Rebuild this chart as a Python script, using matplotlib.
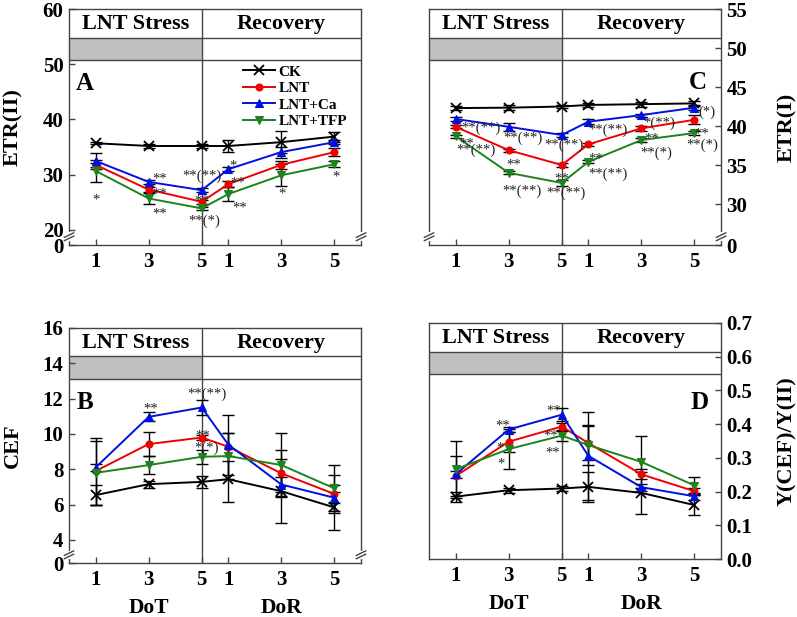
import matplotlib.pyplot as plt
import matplotlib.transforms as mtransforms
from matplotlib.patches import Rectangle

plt.rcParams['font.family'] = 'Liberation Serif'
plt.rcParams['font.weight'] = 'bold'
plt.rcParams['axes.labelweight'] = 'bold'

# sampling days: 3 days of LNT stress then 3 days of recovery
days = [1, 3, 5, 1, 3, 5]
n_stress = 3
series = ['CK', 'LNT', 'LNT+Ca', 'LNT+TFP']
colors = ['black', '#f00000', '#0010e0', '#1e821e']
markers = ['x', 'o', '^', 'v']
marker_sizes = [7, 5, 6, 6]

# A: ETR(II)
etr2_ck = [35.7, 35.2, 35.2, 35.2, 35.9, 36.9]
etr2_lnt = [31.8, 27.3, 25.1, 28.3, 31.8, 34.1]
etr2_ca = [32.5, 28.7, 27.2, 31.0, 34.1, 35.9]
etr2_tfp = [30.7, 25.7, 23.9, 26.5, 29.9, 31.9]
etr2_ck_err = [0.2, 0.4, 0.3, 1.0, 2.0, 0.9]
etr2_lnt_err = [0.4, 0.5, 0.4, 0.6, 0.7, 0.8]
etr2_ca_err = [1.5, 0.4, 0.4, 0.4, 1.0, 0.4]
etr2_tfp_err = [2.0, 1.0, 0.3, 1.2, 2.0, 0.5]

# B: CEF
cef_ck = [6.54, 7.16, 7.29, 7.44, 6.76, 5.84]
cef_lnt = [7.9, 9.43, 9.8, 9.28, 7.77, 6.6]
cef_ca = [8.1, 10.97, 11.5, 9.4, 7.14, 6.39]
cef_tfp = [7.8, 8.24, 8.71, 8.75, 8.24, 6.92]
cef_ck_err = [0.55, 0.2, 0.35, 1.3, 1.8, 1.3]
cef_lnt_err = [1.9, 0.7, 0.15, 0.8, 1.3, 1.1]
cef_ca_err = [0.2, 0.25, 0.4, 1.7, 0.4, 0.3]
cef_tfp_err = [1.8, 0.5, 0.4, 1.3, 1.8, 1.3]

# C: ETR(I)
etr1_ck = [42.3, 42.35, 42.5, 42.7, 42.8, 42.9]
etr1_lnt = [39.9, 36.9, 35.0, 37.65, 39.7, 40.8]
etr1_ca = [40.9, 39.9, 38.85, 40.55, 41.4, 42.35]
etr1_tfp = [38.7, 34.0, 32.7, 35.4, 38.2, 39.1]
etr1_ck_err = [0.25, 0.35, 0.2, 0.2, 0.3, 0.3]
etr1_lnt_err = [0.2, 0.2, 0.25, 0.2, 0.35, 0.6]
etr1_ca_err = [0.2, 0.5, 0.2, 0.35, 0.2, 0.3]
etr1_tfp_err = [0.2, 0.2, 0.35, 0.2, 0.2, 0.2]

# D: Y(CEF)/Y(II)
ratio_ck = [0.185, 0.204, 0.209, 0.214, 0.196, 0.160]
ratio_lnt = [0.246, 0.348, 0.393, 0.344, 0.251, 0.201]
ratio_ca = [0.251, 0.384, 0.428, 0.306, 0.213, 0.186]
ratio_tfp = [0.266, 0.326, 0.366, 0.338, 0.288, 0.218]
ratio_ck_err = [0.015, 0.008, 0.008, 0.045, 0.062, 0.03]
ratio_lnt_err = [0.06, 0.03, 0.01, 0.05, 0.015, 0.01]
ratio_ca_err = [0.01, 0.008, 0.02, 0.13, 0.01, 0.01]
ratio_tfp_err = [0.085, 0.06, 0.015, 0.06, 0.077, 0.025]

# significance marks (text, x, y in data units)
notes_A = [('*', 1.02, 26.5), ('**', 3.43, 30.2), ('**', 3.43, 27.5), ('**', 3.43, 23.8),
           ('**(**)', 5.0, 29.8), ('**', 5.0, 26.2), ('**(*)', 5.1, 21.6),
           ('*', 6.19, 32.5), ('**', 6.34, 29.5), ('**', 6.42, 24.9),
           ('*', 8.04, 27.5), ('*', 10.04, 30.5)]
notes_B = [('**', 3.06, 11.75), ('**(**)', 5.2, 12.26), ('**', 5.02, 10.22), ('*(*)', 5.17, 9.2)]
notes_C = [('**(**)', 1.96, 39.74), ('**', 1.40, 38.46), ('**(**)', 1.77, 36.9),
           ('**(**)', 3.55, 38.46), ('**', 3.17, 35.77), ('**(**)', 3.51, 31.67),
           ('**(**)', 5.09, 37.56), ('**', 4.98, 33.97), ('**(**)', 5.17, 31.4),
           ('**(**)', 6.72, 39.5), ('**', 6.26, 36.5), ('**(**)', 6.72, 33.8),
           ('*(**)', 8.68, 40.4), ('**', 8.38, 39.0), ('**(*)', 8.57, 36.5),
           ('(*)', 10.45, 41.7), ('**', 10.26, 39.74), ('**(*)', 10.3, 37.56)]
notes_D = [('**', 2.79, 0.41), ('*', 2.68, 0.347), ('*', 2.72, 0.299),
           ('**', 4.68, 0.455), ('**', 4.57, 0.38), ('**', 4.64, 0.332)]

positions = [d if i < n_stress else days[n_stress - 1] + d for i, d in enumerate(days)]
SPINE = '#444444'


def draw_break(ax, xfrac, yfrac):
    dx, dy = 0.016, 0.016
    ax.plot([xfrac, xfrac], [yfrac - dy * 0.6, yfrac + dy * 0.6], transform=ax.transAxes,
            color='white', lw=3, clip_on=False, zorder=5)
    for off in (-0.007, 0.007):
        ax.plot([xfrac - dx, xfrac + dx], [yfrac + off - dy * 0.6, yfrac + off + dy * 0.6],
                transform=ax.transAxes, color=SPINE, lw=1, clip_on=False, zorder=6)


def draw_panel(ax, values, errors, ylim, yticks, yticklabels, side, ylabel, letter, letter_xy,
               notes, broken, xlabels):
    trans = mtransforms.blended_transform_factory(ax.transData, ax.transAxes)
    for vals, errs, c, m, ms, name in zip(values, errors, colors, markers, marker_sizes, series):
        ax.errorbar(positions, vals, yerr=errs, fmt='none', ecolor='black', elinewidth=1,
                    capsize=4, capthick=1, zorder=3)
        ax.plot(positions, vals, color=c, marker=m, markersize=ms, lw=1.4,
                markeredgewidth=1.3 if m == 'x' else 0.8, label=name, zorder=4)

    ax.set_xlim(0, 11)
    ax.set_ylim(*ylim)
    ax.set_xticks(positions)
    ax.set_xticklabels([str(d) for d in days])
    ax.set_yticks(yticks)
    ax.set_yticklabels(yticklabels)
    ax.tick_params(direction='in', length=4, width=1, color=SPINE, labelsize=15)
    ax.tick_params(axis='x', pad=5)
    ax.tick_params(axis='y', pad=4)
    for s in ax.spines.values():
        s.set_color(SPINE)
        s.set_linewidth(1)

    # header band
    ax.add_patch(Rectangle((0, 0.784), 5, 0.095, transform=trans, facecolor='#c0c0c0',
                           edgecolor='none', zorder=1))
    for yy in (0.784, 0.879):
        ax.plot([0, 1], [yy, yy], transform=ax.transAxes, color=SPINE, lw=1, zorder=2)
    ax.axvline(5, color=SPINE, lw=1, zorder=2)
    ax.text(2.5, 0.937, 'LNT Stress', transform=trans, ha='center', va='center', fontsize=16)
    ax.text(8, 0.937, 'Recovery', transform=trans, ha='center', va='center', fontsize=16)

    ax.text(letter_xy[0], letter_xy[1], letter, transform=ax.transAxes, ha='center',
            va='center', fontsize=18)

    if side == 'right':
        ax.yaxis.tick_right()
        ax.yaxis.set_label_position('right')
        ax.set_ylabel(ylabel, fontsize=16, fontweight='bold', rotation=90)
        ax.yaxis.set_label_coords(1.226, 0.5)
    else:
        ax.set_ylabel(ylabel, fontsize=16, fontweight='bold')
        ax.yaxis.set_label_coords(-0.192, 0.5)
    ax.yaxis.label.set_verticalalignment('center')

    for txt, x, y in notes:
        dy = 0 if '(' in txt else -4
        ax.annotate(txt, (x, y), xytext=(0, dy), textcoords='offset points', ha='center',
                    va='center', fontsize=10.5, fontweight='normal', color='#222222', zorder=7)

    if broken:
        draw_break(ax, 0.0, 0.035)
        draw_break(ax, 1.0, 0.035)

    if xlabels:
        ax.text(3, -0.19, 'DoT', transform=trans, ha='center', va='center', fontsize=15.5)
        ax.text(8, -0.19, 'DoR', transform=trans, ha='center', va='center', fontsize=15.5)


fig = plt.figure(figsize=(7.97, 6.17), dpi=100)
axA = fig.add_axes([0.0866, 0.6029, 0.3664, 0.3825])
axC = fig.add_axes([0.5383, 0.6029, 0.3664, 0.3825])
axB = fig.add_axes([0.0866, 0.0875, 0.3664, 0.3809])
axD = fig.add_axes([0.5383, 0.094, 0.3664, 0.3825])

low_A = 20 - 15 / 5.5
draw_panel(axA, [etr2_ck, etr2_lnt, etr2_ca, etr2_tfp],
           [etr2_ck_err, etr2_lnt_err, etr2_ca_err, etr2_tfp_err],
           (low_A, 60), [low_A, 20, 30, 40, 50, 60], ['0', '20', '30', '40', '50', '60'],
           'left', 'ETR(II)', 'A', (0.055, 0.686), notes_A, True, False)
axA.legend(loc='upper left', bbox_to_anchor=(0.597, 0.763), frameon=False, fontsize=11,
           handlelength=2.1, handletextpad=0.2, labelspacing=0.19, borderpad=0, borderaxespad=0)

low_C = 30 - 41 / 7.8
draw_panel(axC, [etr1_ck, etr1_lnt, etr1_ca, etr1_tfp],
           [etr1_ck_err, etr1_lnt_err, etr1_ca_err, etr1_tfp_err],
           (low_C, 55), [low_C, 30, 35, 40, 45, 50, 55], ['0', '30', '35', '40', '45', '50', '55'],
           'right', 'ETR(I)', 'C', (0.921, 0.69), notes_C, True, False)

low_B = 4 - 23 / 17.65
draw_panel(axB, [cef_ck, cef_lnt, cef_ca, cef_tfp],
           [cef_ck_err, cef_lnt_err, cef_ca_err, cef_tfp_err],
           (low_B, 16), [low_B, 4, 6, 8, 10, 12, 14, 16], ['0', '4', '6', '8', '10', '12', '14', '16'],
           'left', 'CEF', 'B', (0.055, 0.685), notes_B, True, True)

draw_panel(axD, [ratio_ck, ratio_lnt, ratio_ca, ratio_tfp],
           [ratio_ck_err, ratio_lnt_err, ratio_ca_err, ratio_tfp_err],
           (0, 0.7), [0, 0.1, 0.2, 0.3, 0.4, 0.5, 0.6, 0.7],
           ['0.0', '0.1', '0.2', '0.3', '0.4', '0.5', '0.6', '0.7'],
           'right', 'Y(CEF)/Y(II)', 'D', (0.928, 0.665), notes_D, False, True)

fig.savefig('out.png', dpi=100)
